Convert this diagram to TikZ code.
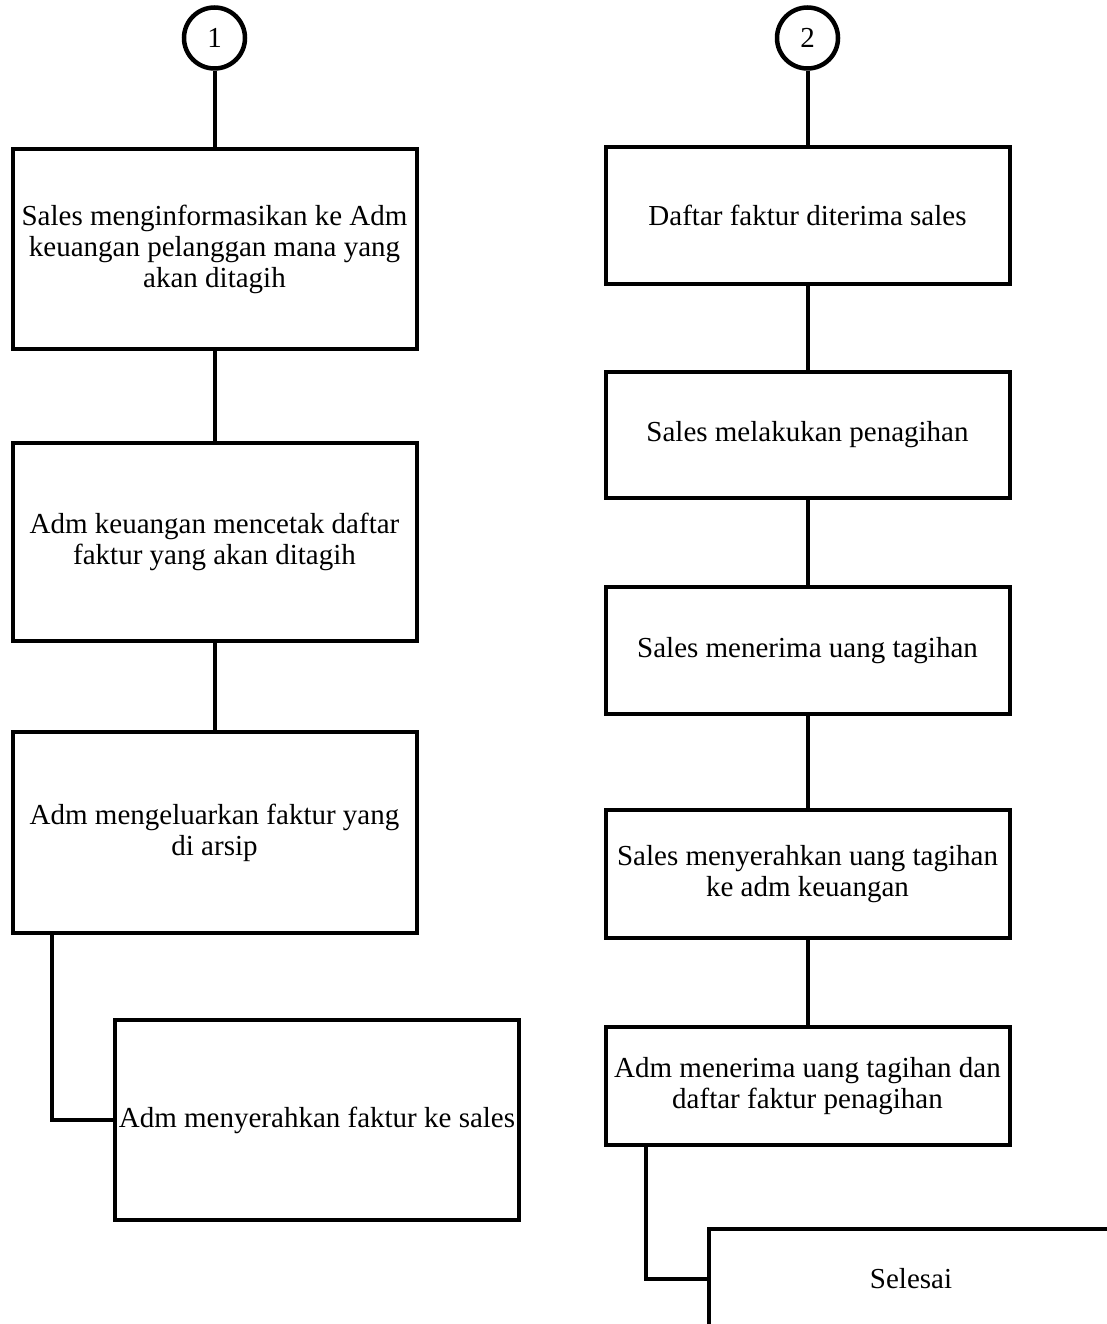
\documentclass[tikz,border=0pt]{standalone}
\usepackage{fontspec}
\setmainfont{Liberation Serif}
\begin{document}
\begin{tikzpicture}[x=1pt,y=-1pt,
  every node/.style={font=\fontsize{29}{31}\selectfont},
  stepbox/.style={draw,line width=4pt,inner sep=0pt,align=center,minimum width=404pt},
  endcircle/.style={draw,circle,line width=4.5pt,minimum size=61pt,inner sep=0pt},
  conn/.style={line width=4pt}]
\useasboundingbox (0,0) rectangle (1107,1324);
\clip (0,0) rectangle (1107,1324);

% left column
\node[endcircle] (c1) at (214.5,38) {1};
\node[stepbox,minimum height=200pt] (l1) at (214.5,249)
  {Sales menginformasikan ke Adm\\keuangan pelanggan mana yang\\akan ditagih};
\node[stepbox,minimum height=198pt] (l2) at (214.5,542)
  {Adm keuangan mencetak daftar\\faktur yang akan ditagih};
\node[stepbox,minimum height=201pt] (l3) at (214.5,832.5)
  {Adm mengeluarkan faktur yang\\di arsip};
\node[stepbox,minimum height=200pt] (l4) at (317,1120)
  {Adm menyerahkan faktur ke sales};
\coordinate (elbowL) at (52,0);

% right column
\node[endcircle] (c2) at (807.5,38) {2};
\node[stepbox,minimum height=137pt] (r1) at (807.5,215.5) {Daftar faktur diterima sales};
\node[stepbox,minimum height=126pt] (r2) at (807.5,435) {Sales melakukan penagihan};
\node[stepbox,minimum height=127pt] (r3) at (807.5,650.5) {Sales menerima uang tagihan};
\node[stepbox,minimum height=128pt] (r4) at (807.5,874)
  {Sales menyerahkan uang tagihan\\ke adm keuangan};
\node[stepbox,minimum height=118pt] (r5) at (807.5,1086)
  {Adm menerima uang tagihan dan\\daftar faktur penagihan};
\node[stepbox,minimum height=100pt] (fin) at (911,1279) {Selesai};
\coordinate (elbowR) at (646,0);

% connectors
\draw[conn] (c1) -- (c1 |- l1.north);
\draw[conn] (l1) -- (l2);
\draw[conn] (l2) -- (l3);
\draw[conn] (l3.south -| elbowL) |- (l4.west);

\draw[conn] (c2) -- (c2 |- r1.north);
\draw[conn] (r1) -- (r2);
\draw[conn] (r2) -- (r3);
\draw[conn] (r3) -- (r4);
\draw[conn] (r4) -- (r5);
\draw[conn] (r5.south -| elbowR) |- (fin.west);
\end{tikzpicture}
\end{document}
